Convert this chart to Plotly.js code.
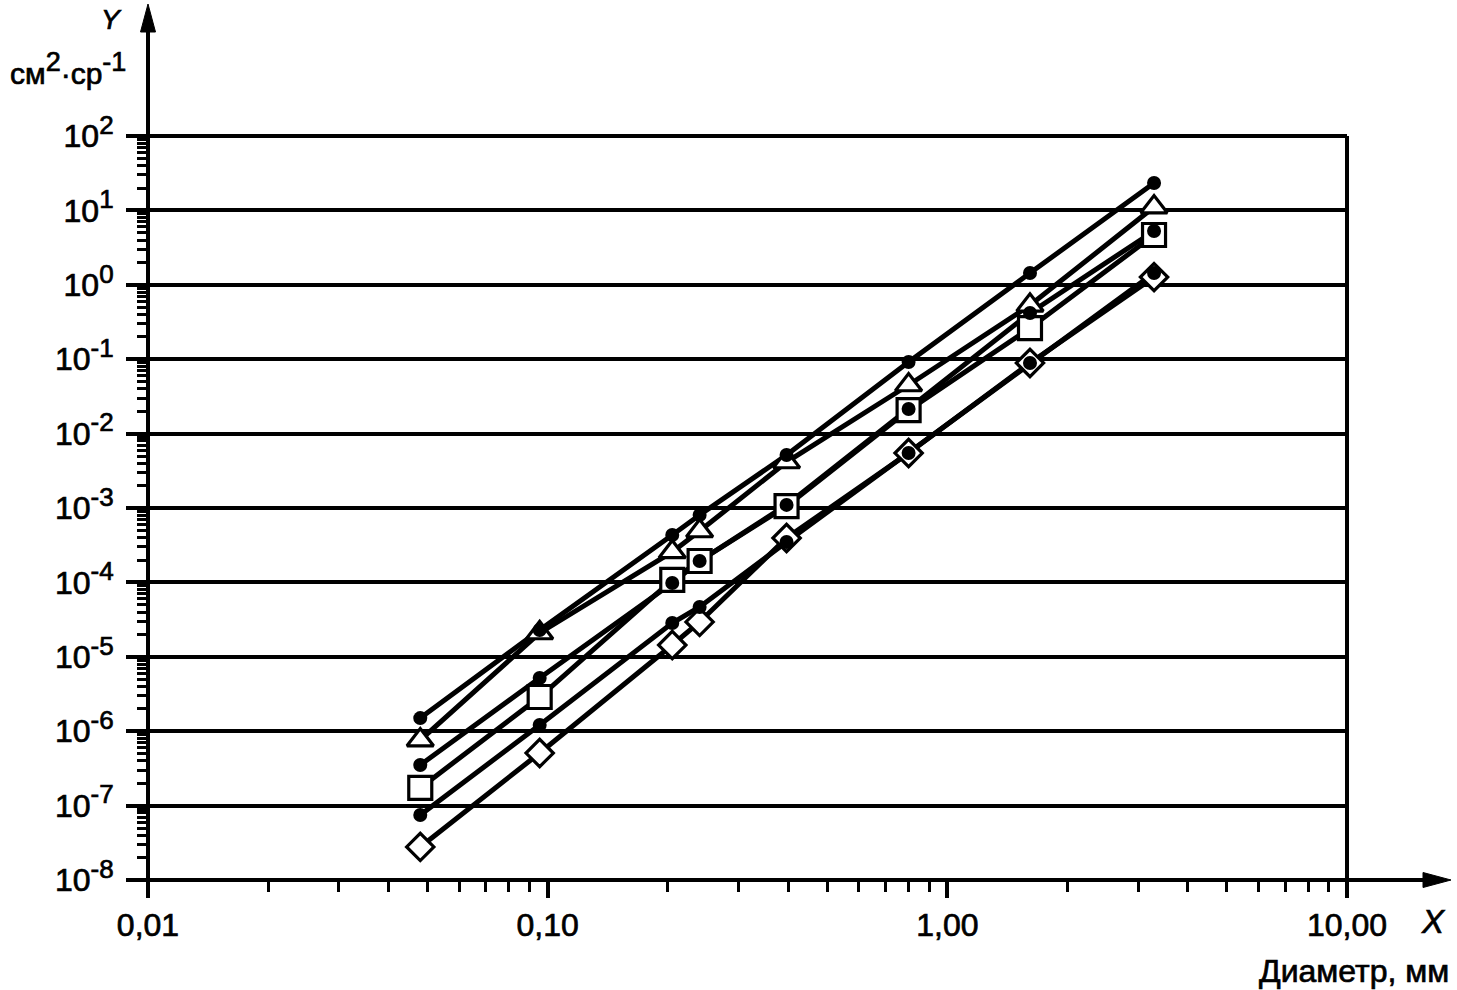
<!DOCTYPE html>
<html>
<head>
<meta charset="utf-8">
<script src="https://cdn.plot.ly/plotly-3.0.1.min.js"></script>
<style>
html,body{margin:0;padding:0;background:#fff;}
#chart{width:1457px;height:990px;}
#chart svg text{stroke:#000;stroke-width:0.7px;}
</style>
</head>
<body>
<div id="chart"></div>
<script>
// Particle diameter, mm
const diameter = [0.048, 0.0955, 0.205, 0.24, 0.396, 0.80, 1.61, 3.29];
// Series values, cm^2·sr^-1
const seriesDotTop   = [1.50e-6, 2.29e-5, 4.33e-4, 8.05e-4, 5.15e-3, 9.16e-2, 1.44, 23.3];
const seriesTriangle = [7.6e-7, 2.09e-5, 2.57e-4, 4.91e-4, 4.15e-3, 4.5e-2, 0.53, 11.1];
const seriesDotMid   = [3.52e-7, 5.19e-6, 9.82e-5, 1.94e-4, 1.10e-3, 2.14e-2, 0.418, 5.29];
const seriesSquare   = [1.73e-7, 2.88e-6, 1.08e-4, 1.94e-4, 1.06e-3, 2.07e-2, 0.262, 4.67];
const seriesDotLow   = [7.48e-8, 1.21e-6, 2.84e-5, 4.67e-5, 3.49e-4, 5.48e-3, 8.89e-2, 1.44];
const seriesDiamond  = [2.78e-8, 5.09e-7, 1.44e-5, 2.94e-5, 3.95e-4, 5.48e-3, 8.9e-2, 1.27];

const xTickVals = [0.01, 0.1, 1, 10];
const xTickText = ['0,01', '0,10', '1,00', '10,00'];
const yExponents = [-8, -7, -6, -5, -4, -3, -2, -1, 0, 1, 2];

const FONT = 'Liberation Sans, Arial, Helvetica, sans-serif';
const allSeries = [seriesDotTop, seriesTriangle, seriesDotMid, seriesSquare, seriesDotLow, seriesDiamond];

const traces = [];
// lines first
allSeries.forEach(s => traces.push({
  x: diameter, y: s, type: 'scatter', mode: 'lines',
  line: {color: '#000', width: 5}, hoverinfo: 'skip', showlegend: false
}));
// open markers
function openMarker(s, symbol, size) {
  return {x: diameter, y: s, type: 'scatter', mode: 'markers', showlegend: false,
    marker: {symbol: symbol, size: size, color: '#fff', line: {color: '#000', width: 3.2}}};
}
traces.push(openMarker(seriesTriangle, 'triangle-up', 23));
traces.push(openMarker(seriesSquare, 'square', 23));
traces.push(openMarker(seriesDiamond, 'diamond', 21));
// filled dots on top
[seriesDotTop, seriesDotMid, seriesDotLow].forEach(s => traces.push({
  x: diameter, y: s, type: 'scatter', mode: 'markers', showlegend: false,
  marker: {symbol: 'circle', size: 14, color: '#000'}
}));

const supSpan = (t, px) => '<sup><span style="font-size:' + px + 'px">' + t + '</span></sup>';
const yTickVals = yExponents.map(e => Math.pow(10, e));
const yTickText = yExponents.map(e => '10' + supSpan(String(e), 26));
const yMinor = [];
yExponents.slice(0, -1).forEach(e => { for (let k = 2; k <= 9; k++) yMinor.push(k * Math.pow(10, e)); });
const xMinor = [];
[-2, -1, 0].forEach(e => { for (let k = 2; k <= 9; k++) xMinor.push(k * Math.pow(10, e)); });

const PX = p => (p - 148) / 1199;
const PY = p => (880 - p) / 744;

const layout = {
  width: 1457, height: 990,
  margin: {l: 148, r: 110, t: 136, b: 110},
  paper_bgcolor: '#fff', plot_bgcolor: '#fff',
  font: {family: FONT, color: '#000'},
  showlegend: false,
  xaxis: {
    type: 'log', range: [-2, 1],
    tickmode: 'array', tickvals: xTickVals, ticktext: xTickText,
    ticks: 'outside', ticklen: 17, tickwidth: 4, tickcolor: '#000',
    showgrid: false, zeroline: false, showline: false,
    tickfont: {family: FONT, size: 32, color: '#000'},
    minor: {tickmode: 'array', tickvals: xMinor, ticks: 'outside', ticklen: 11, tickwidth: 3, tickcolor: '#000', showgrid: false}
  },
  yaxis: {
    type: 'log', range: [-8, 2],
    tickmode: 'array', tickvals: yTickVals, ticktext: yTickText,
    ticks: 'outside', ticklen: 21, tickwidth: 4, tickcolor: '#000',
    showgrid: true, gridcolor: '#000', gridwidth: 4,
    zeroline: false, showline: false,
    ticklabelstandoff: 6,
    tickfont: {family: FONT, size: 32, color: '#000'},
    minor: {tickmode: 'array', tickvals: yMinor, ticks: 'outside', ticklen: 10, tickwidth: 3, tickcolor: '#000', showgrid: false}
  },
  shapes: [
    // plot frame top and right
    {type: 'line', xref: 'paper', yref: 'paper', x0: 0, x1: 1, y0: 1, y1: 1, line: {color: '#000', width: 4}},
    {type: 'line', xref: 'paper', yref: 'paper', x0: 1, x1: 1, y0: 0, y1: 1, line: {color: '#000', width: 4}},
    // x axis with arrow
    {type: 'line', xref: 'paper', yref: 'paper', x0: PX(127), x1: PX(1428), y0: 0, y1: 0, line: {color: '#000', width: 4}},
    {type: 'path', xref: 'paper', yref: 'paper',
      path: 'M ' + PX(1451) + ',' + PY(880) + ' L ' + PX(1423) + ',' + PY(872.5) + ' L ' + PX(1423) + ',' + PY(887.5) + ' Z',
      fillcolor: '#000', line: {color: '#000', width: 1}},
    // y axis with arrow
    {type: 'line', xref: 'paper', yref: 'paper', x0: 0, x1: 0, y0: PY(897), y1: PY(30), line: {color: '#000', width: 4}},
    {type: 'path', xref: 'paper', yref: 'paper',
      path: 'M ' + PX(148) + ',' + PY(4) + ' L ' + PX(140.5) + ',' + PY(32) + ' L ' + PX(155.5) + ',' + PY(32) + ' Z',
      fillcolor: '#000', line: {color: '#000', width: 1}}
  ],
  annotations: [
    {xref: 'paper', yref: 'paper', x: PX(111), y: PY(20), text: '<i>Y</i>', showarrow: false,
      xanchor: 'center', yanchor: 'middle', font: {family: FONT, size: 28, color: '#000'}},
    {xref: 'paper', yref: 'paper', x: PX(128), y: PY(68), text: 'см' + supSpan('2', 27) + '·ср' + supSpan('-1', 27), showarrow: false,
      xanchor: 'right', yanchor: 'middle', font: {family: FONT, size: 30, color: '#000'}},
    {xref: 'paper', yref: 'paper', x: PX(1433), y: PY(921), text: '<i>X</i>', showarrow: false,
      xanchor: 'center', yanchor: 'middle', font: {family: FONT, size: 33, color: '#000'}},
    {xref: 'paper', yref: 'paper', x: PX(1451), y: PY(971), text: 'Диаметр, мм', showarrow: false,
      xanchor: 'right', yanchor: 'middle', font: {family: FONT, size: 32, color: '#000'}}
  ]
};

Plotly.newPlot('chart', traces, layout, {displayModeBar: false, staticPlot: true});
</script>
</body>
</html>
